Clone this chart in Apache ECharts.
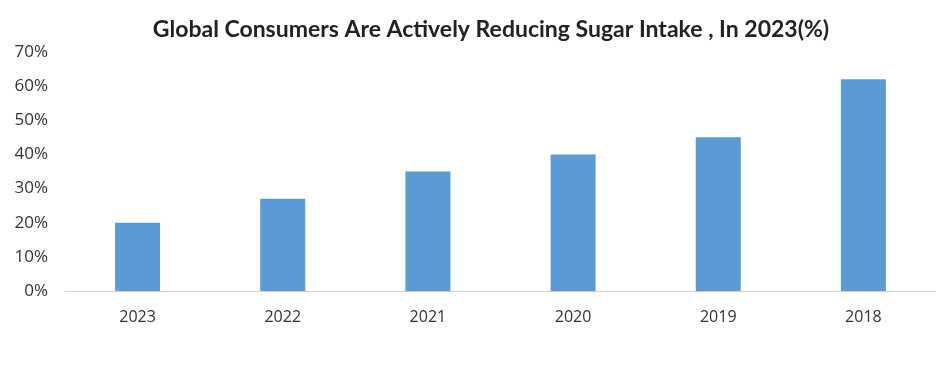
<!DOCTYPE html>
<html><head><meta charset="utf-8">
<script src="https://cdn.jsdelivr.net/npm/echarts@6/dist/echarts.min.js"></script>
<style>html,body{margin:0;padding:0;background:#fff}#c{width:936px;height:381px}</style>
</head><body><div id="c"></div>
<script>
const categories = ['2023','2022','2021','2020','2019','2018'];
const values = [20, 27, 35, 40, 45, 62];
const yTicks = [0,10,20,30,40,50,60,70];
const titleText = 'Global Consumers Are Actively Reducing Sugar Intake , In 2023(%)';

const chart = echarts.init(document.getElementById('c'));
chart.setOption({
  animation: false,
  title: {text: titleText, left: 486, textAlign: 'center', top: 13,
    textStyle: {fontFamily: 'Lato', fontWeight: 'bold', fontSize: 23, color: '#222'}},
  grid: {left: 65, right: 0, top: 52, bottom: 90},
  xAxis: {type: 'category', data: categories,
    axisLine: {lineStyle: {color: '#d0d0d0'}}, axisTick: {show: false},
    axisLabel: {color: '#333', fontSize: 16, margin: 18, fontFamily: 'Open Sans'}},
  yAxis: {type: 'value', min: yTicks[0], max: yTicks[yTicks.length-1], interval: 10,
    splitLine: {show: false}, axisLine: {show: false}, axisTick: {show: false},
    axisLabel: {formatter: '{value}%', color: '#333', fontSize: 17, margin: 17, fontFamily: 'Open Sans'}},
  series: [{type: 'bar', data: values, barWidth: 45, itemStyle: {color: '#5b9bd5'}}]
});
</script></body></html>
